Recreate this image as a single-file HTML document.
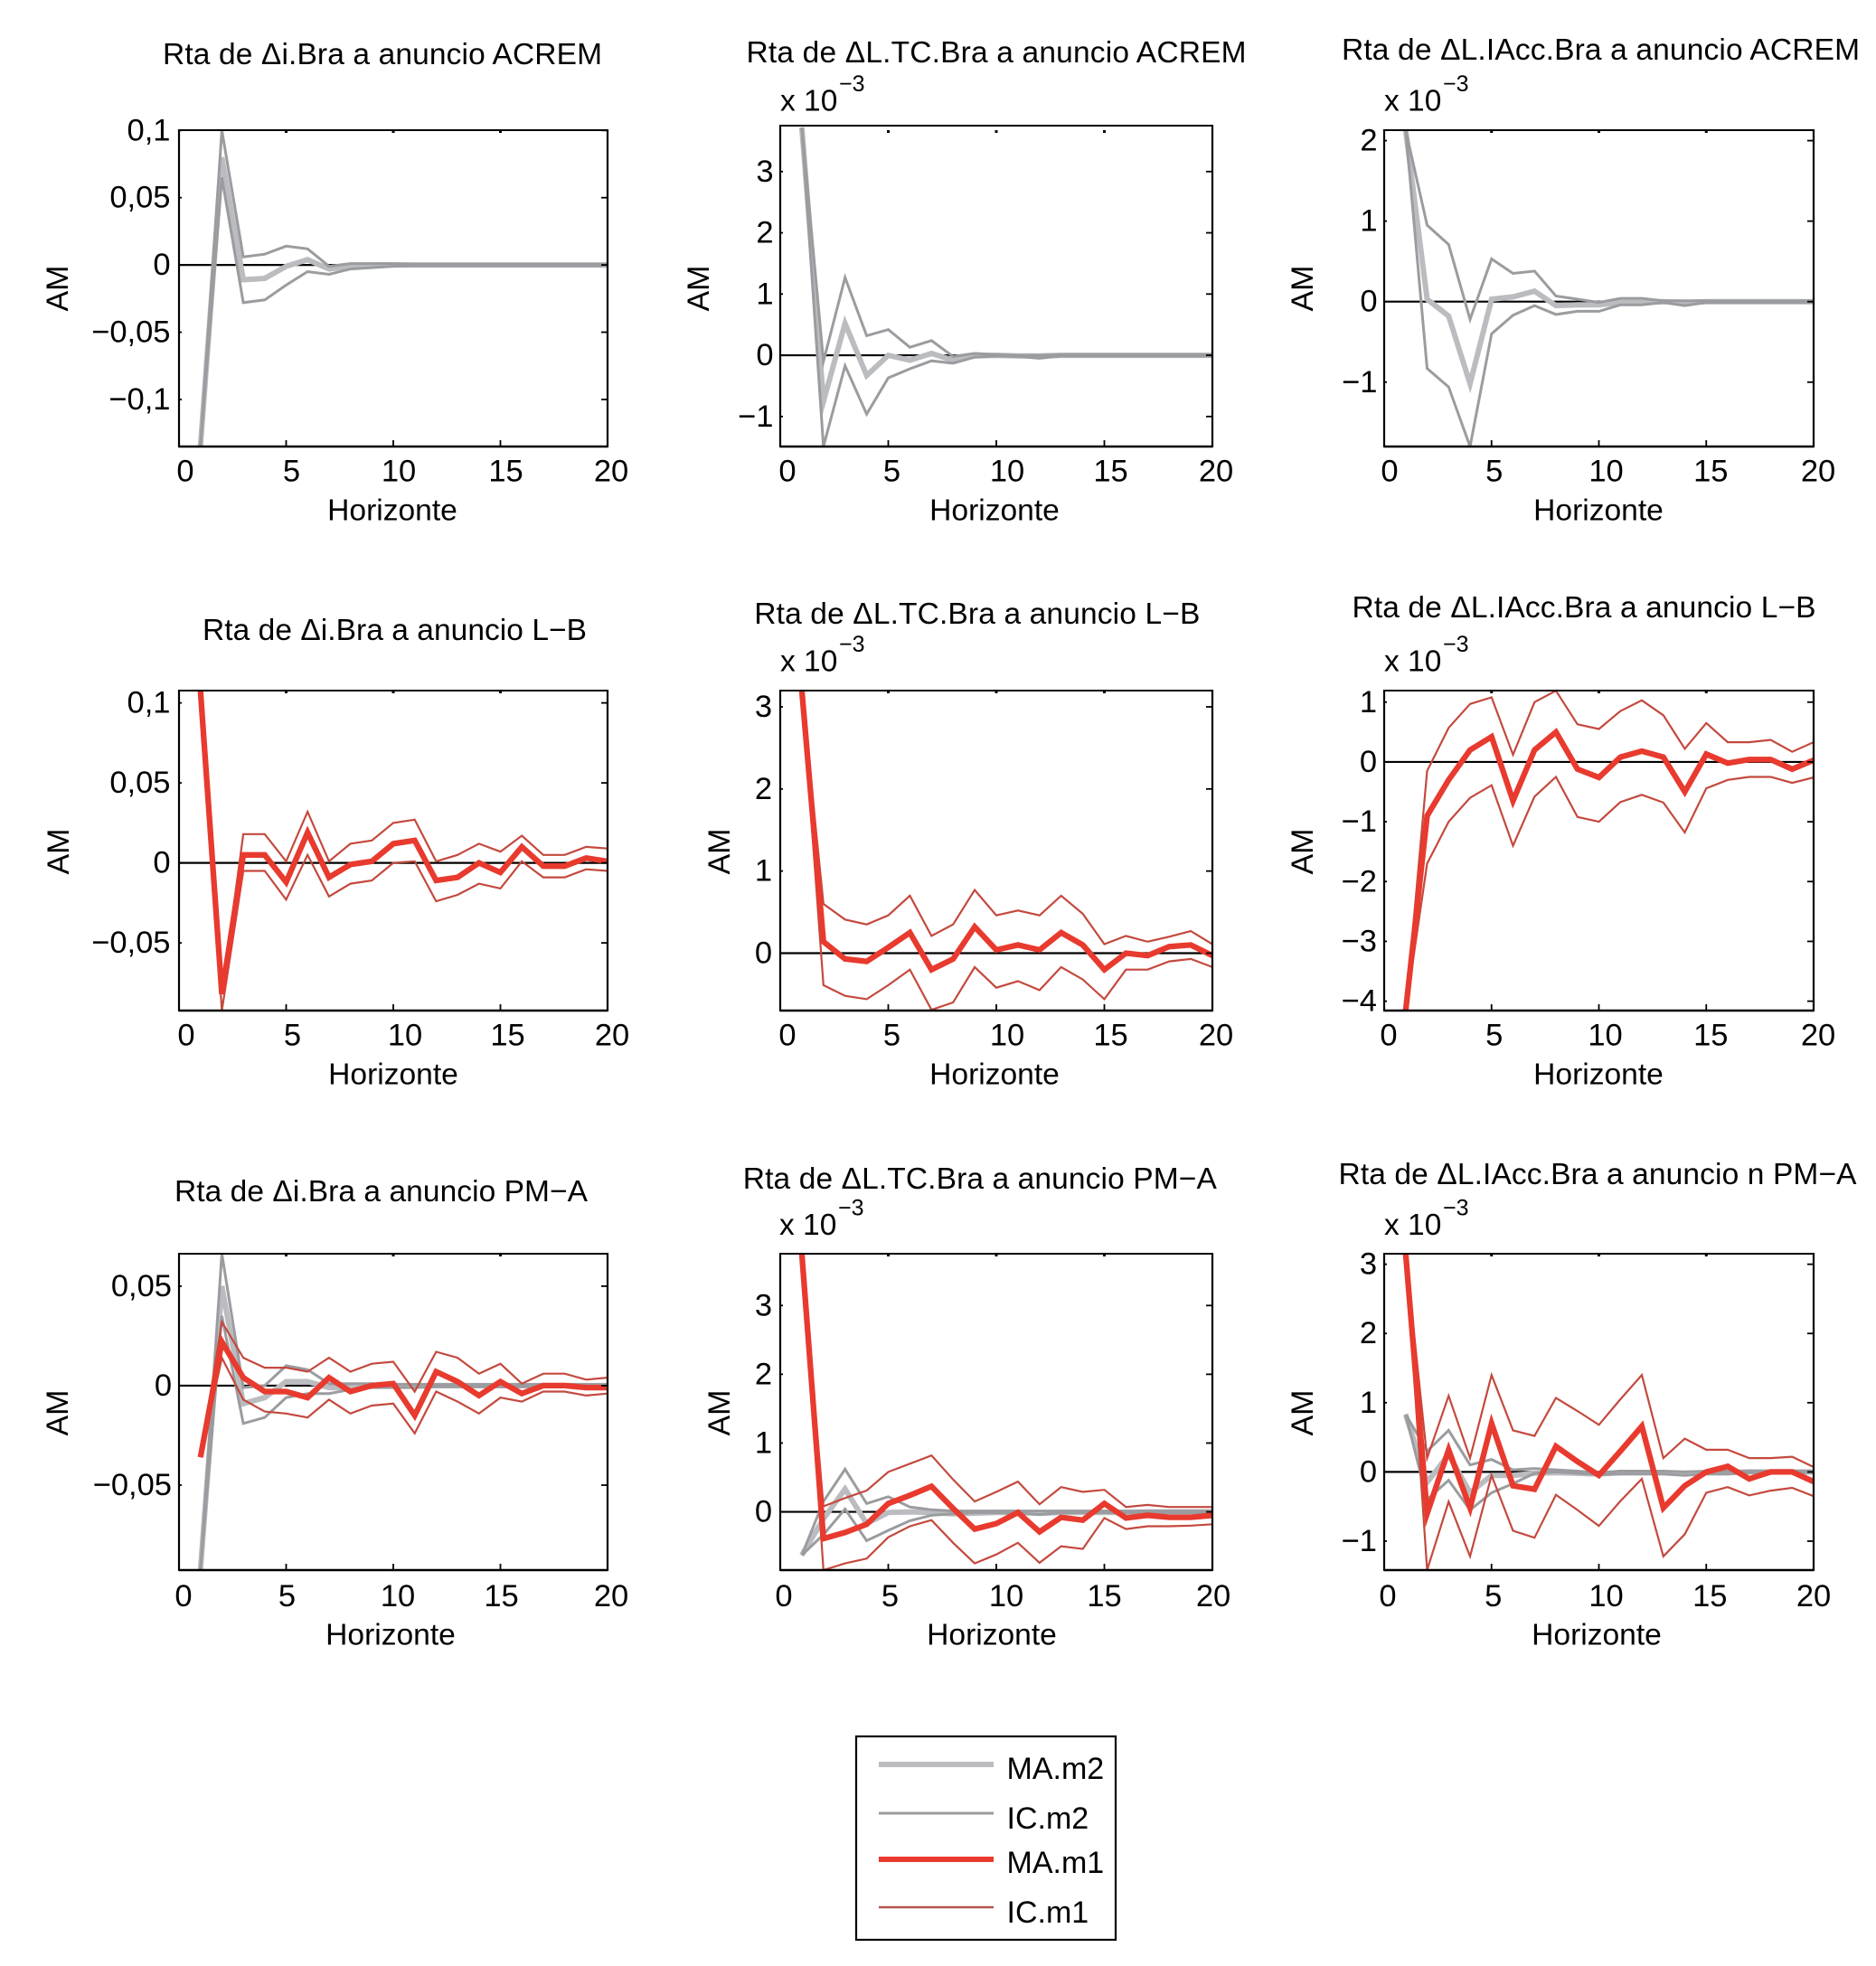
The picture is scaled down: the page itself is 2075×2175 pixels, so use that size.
<!DOCTYPE html>
<html lang="es">
<head>
<meta charset="utf-8">
<title>Respuestas a anuncios</title>
<style>
html,body{margin:0;padding:0;background:#fff;}
svg{display:block;}
text{font-family:"Liberation Sans",sans-serif;fill:#000;}
</style>
</head>
<body>
<svg id="figure" xmlns="http://www.w3.org/2000/svg" width="2075" height="2175" viewBox="0 0 2075 2175">
  <rect x="0" y="0" width="2075" height="2175" fill="#ffffff"/>
  <g id="panels"></g>
  <g id="legend">
    <rect x="947" y="1921" width="287" height="225" fill="#fff" stroke="#000" stroke-width="2.2"/>
    <line x1="972" x2="1099" y1="1952" y2="1952" stroke="#babcbf" stroke-width="6"/>
    <text x="1113.5" y="1968" font-size="34">MA.m2</text>
    <line x1="972" x2="1099" y1="2006" y2="2006" stroke="#9a9c9f" stroke-width="3"/>
    <text x="1113.5" y="2023" font-size="34">IC.m2</text>
    <line x1="972" x2="1099" y1="2057" y2="2057" stroke="#e83a2e" stroke-width="6"/>
    <text x="1113.5" y="2072" font-size="34">MA.m1</text>
    <line x1="972" x2="1099" y1="2110" y2="2110" stroke="#b5554c" stroke-width="2.5"/>
    <text x="1113.5" y="2127" font-size="34">IC.m1</text>
  </g>
</svg>
<script>
const horizons = [1,2,3,4,5,6,7,8,9,10,11,12,13,14,15,16,17,18,19,20];
const xTickValues = [0,5,10,15,20];
const xTickLabels = ["0","5","10","15","20"];

const p1Ma2 = [-0.135,0.08,-0.011,-0.01,-0.001,0.004,-0.003,-0.001,0,0,0,0,0,0,0,0,0,0,0,0];
const p1Up2 = [-0.135,0.1,0.006,0.008,0.014,0.012,-0.001,0.001,0.001,0.001,0.0006,0.0006,0.0006,0.0006,0.0006,0.0006,0.0006,0.0006,0.0006,0.0006];
const p1Lo2 = [-0.135,0.065,-0.028,-0.026,-0.015,-0.005,-0.007,-0.003,-0.002,-0.001,-0.0006,-0.0006,-0.0006,-0.0006,-0.0006,-0.0006,-0.0006,-0.0006,-0.0006,-0.0006];

const p2Ma2 = [3.72,-0.75,0.52,-0.33,0,-0.08,0.03,-0.08,-0.01,0,-0.01,-0.01,0,0,0,0,0,0,0,0];
const p2Up2 = [3.72,-0.1,1.27,0.32,0.42,0.13,0.24,-0.02,0.03,0.012,0,0,0.012,0.012,0.012,0.012,0.012,0.012,0.012,0.012];
const p2Lo2 = [3.72,-1.49,-0.17,-0.96,-0.37,-0.22,-0.09,-0.13,-0.03,-0.012,-0.02,-0.05,-0.012,-0.012,-0.012,-0.012,-0.012,-0.012,-0.012,-0.012];

const p3Ma2 = [2.13,0.03,-0.18,-1.02,0.03,0.06,0.13,-0.05,-0.04,-0.04,-0.01,-0.01,0,-0.01,0,0,0,0,0,0];
const p3Up2 = [2.13,0.95,0.71,-0.22,0.53,0.35,0.38,0.07,0.03,-0.01,0.04,0.04,0.01,0.01,0.01,0.01,0.01,0.01,0.01,0.01];
const p3Lo2 = [2.13,-0.83,-1.06,-1.8,-0.4,-0.17,-0.05,-0.16,-0.12,-0.12,-0.04,-0.04,-0.01,-0.05,-0.01,-0.01,-0.01,-0.01,-0.01,-0.01];

const p4Ma1 = [0.1077,-0.082,0.005,0.005,-0.012,0.019,-0.009,-0.001,0.001,0.012,0.014,-0.011,-0.009,0,-0.006,0.01,-0.002,-0.002,0.003,0.001];
const p4Up1 = [0.1077,-0.082,0.018,0.018,0.001,0.032,0.001,0.012,0.014,0.025,0.027,0.001,0.005,0.012,0.007,0.017,0.005,0.005,0.01,0.009];
const p4Lo1 = [0.1077,-0.0923,-0.005,-0.005,-0.023,0.005,-0.021,-0.013,-0.011,0,0.001,-0.024,-0.02,-0.013,-0.016,0.001,-0.009,-0.009,-0.004,-0.005];

const p5Ma1 = [3.198,0.14,-0.07,-0.1,0.07,0.25,-0.2,-0.07,0.32,0.04,0.1,0.04,0.25,0.1,-0.2,0,-0.03,0.08,0.1,-0.03];
const p5Up1 = [3.198,0.6,0.41,0.35,0.46,0.7,0.21,0.35,0.77,0.46,0.52,0.46,0.7,0.48,0.11,0.21,0.14,0.2,0.27,0.11];
const p5Lo1 = [3.198,-0.39,-0.52,-0.56,-0.39,-0.2,-0.69,-0.6,-0.17,-0.42,-0.34,-0.45,-0.17,-0.32,-0.56,-0.2,-0.2,-0.1,-0.07,-0.17];

const p6Ma1 = [-4.157,-0.9,-0.3,0.2,0.42,-0.65,0.2,0.5,-0.12,-0.26,0.08,0.18,0.08,-0.5,0.13,-0.02,0.04,0.04,-0.12,0.03];
const p6Up1 = [-4.157,-0.15,0.57,0.97,1.08,0.12,1,1.19,0.63,0.55,0.85,1.03,0.78,0.22,0.65,0.33,0.33,0.37,0.17,0.33];
const p6Lo1 = [-4.157,-1.7,-1,-0.6,-0.39,-1.4,-0.58,-0.25,-0.92,-1,-0.67,-0.55,-0.68,-1.18,-0.44,-0.3,-0.25,-0.25,-0.35,-0.26];

const p7Ma2 = [-0.0927,0.05,-0.009,-0.006,0.002,0.002,-0.001,-0.001,0,0,0,0,0,0,0,0,0,0,0,0];
const p7Up2 = [-0.0927,0.0663,-0.001,0,0.01,0.008,0.001,0.001,0.001,0.0006,0.0006,0.0006,0.0006,0.0006,0.0006,0.0006,0.0006,0.0006,0.0006,0.0006];
const p7Lo2 = [-0.0927,0.035,-0.019,-0.016,-0.006,-0.004,-0.004,-0.002,-0.001,-0.001,-0.001,-0.0006,-0.0006,-0.0006,-0.0006,-0.0006,-0.0006,-0.0006,-0.0006,-0.0006];
const p7Ma1 = [-0.036,0.022,0.004,-0.003,-0.003,-0.006,0.004,-0.003,0,0.001,-0.015,0.007,0.002,-0.005,0.002,-0.004,0,0,-0.001,-0.001];
const p7Up1 = [-0.036,0.032,0.014,0.009,0.009,0.007,0.014,0.007,0.011,0.012,-0.003,0.017,0.014,0.006,0.011,0.001,0.006,0.006,0.003,0.004];
const p7Lo1 = [-0.036,0.014,-0.007,-0.013,-0.014,-0.016,-0.007,-0.014,-0.01,-0.009,-0.024,-0.003,-0.008,-0.014,-0.006,-0.008,-0.003,-0.003,-0.005,-0.004];

const p8Ma2 = [-0.63,-0.1,0.33,-0.17,-0.01,0,-0.01,-0.03,-0.02,-0.01,-0.01,-0.02,-0.01,-0.01,-0.01,-0.01,0,0,0,0];
const p8Up2 = [-0.63,0.15,0.62,0.12,0.22,0.07,0.03,0.012,0.012,0.012,0.012,0.012,0.012,0.012,0.012,0.012,0.012,0.012,0.012,0.012];
const p8Lo2 = [-0.63,-0.33,0.04,-0.42,-0.27,-0.13,-0.05,-0.03,-0.012,-0.012,-0.02,-0.04,-0.012,-0.012,-0.012,-0.012,-0.012,-0.012,-0.012,-0.012];
const p8Ma1 = [3.75,-0.39,-0.3,-0.18,0.12,0.24,0.37,0.05,-0.25,-0.17,-0.01,-0.29,-0.08,-0.12,0.12,-0.09,-0.05,-0.08,-0.08,-0.05];
const p8Up1 = [3.75,0.08,0.2,0.31,0.58,0.7,0.82,0.47,0.15,0.29,0.44,0.11,0.36,0.29,0.32,0.07,0.1,0.07,0.07,0.07];
const p8Lo1 = [3.75,-0.847,-0.75,-0.68,-0.37,-0.21,-0.12,-0.45,-0.75,-0.62,-0.45,-0.74,-0.5,-0.54,-0.09,-0.25,-0.21,-0.21,-0.2,-0.18];

const p9Ma2 = [0.83,-0.15,0.25,-0.3,-0.05,-0.05,-0.02,-0.01,-0.02,-0.03,-0.01,-0.01,-0.01,-0.02,-0.01,-0.01,0,0,0,0];
const p9Up2 = [0.83,0.3,0.6,0.1,0.18,0.03,0.05,0.03,0.012,-0.01,0.012,0.012,0.012,0,0.012,0.012,0.012,0.012,0.012,0.012];
const p9Lo2 = [0.83,-0.4,-0.12,-0.55,-0.3,-0.17,-0.02,0,-0.02,-0.04,-0.03,-0.03,-0.03,-0.05,-0.03,-0.03,-0.012,-0.012,-0.012,-0.012];
const p9Ma1 = [3.15,-0.6,0.32,-0.52,0.7,-0.2,-0.25,0.37,0.15,-0.05,0.3,0.66,-0.52,-0.2,0,0.08,-0.1,0,0,-0.14];
const p9Up1 = [3.15,0.2,1.1,0.2,1.4,0.6,0.52,1.07,0.88,0.68,1.05,1.4,0.2,0.48,0.32,0.32,0.2,0.2,0.22,0.07];
const p9Lo1 = [3.15,-1.418,-0.43,-1.22,-0.05,-0.85,-0.95,-0.33,-0.55,-0.78,-0.42,-0.1,-1.22,-0.9,-0.3,-0.22,-0.34,-0.27,-0.23,-0.35];

const colors = {ma2:"#babcbf",ic2:"#9a9c9f",ma1:"#e83a2e",ic1:"#c4493e"};

const panels = [
 {id:"p1",title:"Rta de Δi.Bra a anuncio ACREM",tx:423,ty:71,tw:486,
  box:[198,144,672,494],yMin:-0.135,yMax:0.1002,dot:0,
  yTicks:[-0.1,-0.05,0,0.05,0.1],yLabels:["−0,1","−0,05","0","0,05","0,1"],yr:188.5,
  xNudge:[7,6,6,6,4],xlb:532.5,hx:434,hb:575.5,amx:75,amy:319,gray:[p1Ma2,p1Up2,p1Lo2],red:null},
 {id:"p2",title:"Rta de ΔL.TC.Bra a anuncio ACREM",tx:1102,ty:69,tw:553,exp:[863,122.5],
  box:[863,139,1341,494],yMin:-1.49,yMax:3.75,dot:5,
  yTicks:[-1,0,1,2,3],yLabels:["−1","0","1","2","3"],yr:855.5,
  xNudge:[8,4,12,7,4],xlb:532.5,hx:1100,hb:575.5,amx:784,amy:319,gray:[p2Ma2,p2Up2,p2Lo2],red:null},
 {id:"p3",title:"Rta de ΔL.IAcc.Bra a anuncio ACREM",tx:1770.5,ty:66,tw:573,exp:[1531,122.5],
  box:[1531,144,2006,494],yMin:-1.8,yMax:2.13,dot:0,
  yTicks:[-1,0,1,2],yLabels:["−1","0","1","2"],yr:1523.5,
  xNudge:[6,3,8,5,5],xlb:532.5,hx:1768,hb:575.5,amx:1452,amy:319,gray:[p3Ma2,p3Up2,p3Lo2],red:null},
 {id:"p4",title:"Rta de Δi.Bra a anuncio L−B",tx:436.5,ty:708,tw:425,
  box:[198,764,672,1118],yMin:-0.0923,yMax:0.1077,dot:0,
  yTicks:[-0.05,0,0.05,0.1],yLabels:["−0,05","0","0,05","0,1"],yr:188.5,
  xNudge:[8,7,13,8,5],xlb:1156.5,hx:435,hb:1199.5,amx:76,amy:942,gray:null,red:[p4Ma1,p4Up1,p4Lo1]},
 {id:"p5",title:"Rta de ΔL.TC.Bra a anuncio L−B",tx:1080.8,ty:690,tw:493,exp:[863,742.5],
  box:[863,764,1341,1118],yMin:-0.699,yMax:3.198,dot:0,
  yTicks:[0,1,2,3],yLabels:["0","1","2","3"],yr:854,
  xNudge:[8,4,12,7,4],xlb:1156.5,hx:1100,hb:1199.5,amx:807,amy:942,gray:null,red:[p5Ma1,p5Up1,p5Lo1]},
 {id:"p6",title:"Rta de ΔL.IAcc.Bra a anuncio L−B",tx:1752,ty:683,tw:513,exp:[1531,742.5],
  box:[1531,764,2006,1118],yMin:-4.157,yMax:1.193,dot:0,
  yTicks:[-4,-3,-2,-1,0,1],yLabels:["−4","−3","−2","−1","0","1"],yr:1523,
  xNudge:[5,3,7,5,5],xlb:1156.5,hx:1768,hb:1199.5,amx:1452,amy:942,gray:null,red:[p6Ma1,p6Up1,p6Lo1]},
 {id:"p7",title:"Rta de Δi.Bra a anuncio PM−A",tx:421.5,ty:1329,tw:457,
  box:[198,1387,672,1737],yMin:-0.0927,yMax:0.0663,dot:0,
  yTicks:[-0.05,0,0.05],yLabels:["−0,05","0","0,05"],yr:190,
  xNudge:[5,1,5,1,4],xlb:1777,hx:432,hb:1819.5,amx:75,amy:1563,gray:[p7Ma2,p7Up2,p7Lo2],red:[p7Ma1,p7Up1,p7Lo1]},
 {id:"p8",title:"Rta de ΔL.TC.Bra a anuncio PM−A",tx:1083.8,ty:1315,tw:524,exp:[862,1366],
  box:[863,1387,1341,1737],yMin:-0.847,yMax:3.753,dot:0,
  yTicks:[0,1,2,3],yLabels:["0","1","2","3"],yr:854,
  xNudge:[4,2,11,0,1],xlb:1777,hx:1097,hb:1819.5,amx:807,amy:1563,gray:[p8Ma2,p8Up2,p8Lo2],red:[p8Ma1,p8Up1,p8Lo1]},
 {id:"p9",title:"Rta de ΔL.IAcc.Bra a anuncio n PM−A",tx:1767,ty:1310,tw:573,exp:[1531,1366],
  box:[1531,1387,2006,1737],yMin:-1.418,yMax:3.152,dot:0,
  yTicks:[-1,0,1,2,3],yLabels:["−1","0","1","2","3"],yr:1523,
  xNudge:[4,2,8,4,0],xlb:1777,hx:1766,hb:1819.5,amx:1452,amy:1563,gray:[p9Ma2,p9Up2,p9Lo2],red:[p9Ma1,p9Up1,p9Lo1]}
];

const NS = "http://www.w3.org/2000/svg";
function make(parent, tag, attrs, txt){
  const el = document.createElementNS(NS, tag);
  for (const k in attrs) el.setAttribute(k, attrs[k]);
  if (txt !== undefined) el.textContent = txt;
  parent.appendChild(el);
  return el;
}

const root = document.getElementById("panels");
panels.forEach(function(p){
  const [L,T,R,B] = p.box;
  const xScale = function(v){ return L + (R-L)*v/20; };
  const yScale = function(v){ return B - (B-T)*(v-p.yMin)/(p.yMax-p.yMin); };

  const g = make(root,"g",{});
  
  

  const title = make(g,"text",{x:p.tx,y:p.ty,"font-size":33.5,"text-anchor":"middle",textLength:p.tw,lengthAdjust:"spacing"},p.title);
  
  

  if (p.exp){
    const e1 = make(g,"text",{x:p.exp[0],y:p.exp[1],"font-size":33.5},"x 10");
    
    
    const e2 = make(g,"text",{x:p.exp[0]+65,y:p.exp[1]-21.5,"font-size":25},"−3");
    
    
  }

  const clipId = "clip-" + p.id;
  const cp = make(g,"clipPath",{id:clipId});
  make(cp,"rect",{x:L,y:T-2,width:R-L,height:B-T+3});

  const zero = make(g,"line",{x1:L,x2:R,y1:yScale(0),y2:yScale(0),stroke:"#000","stroke-width":2.2});
  
  

  const plot = make(g,"g",{"clip-path":"url(#"+clipId+")",fill:"none","stroke-linejoin":"miter","stroke-miterlimit":6});
  
  

  function drawLine(values, color, width, name){
    const pts = values.map(function(v,i){ return xScale(horizons[i]).toFixed(1)+","+yScale(v).toFixed(1); }).join(" ");
    const line = make(plot,"polyline",{points:pts,stroke:color,"stroke-width":width});
    
    
  }
  if (p.gray){
    drawLine(p.gray[0], colors.ma2, 6, 'series-ma-m2');
    drawLine(p.gray[1], colors.ic2, 3, 'series-ic-m2-upper');
    drawLine(p.gray[2], colors.ic2, 3, 'series-ic-m2-lower');
  }
  if (p.red){
    drawLine(p.red[1], colors.ic1, 2.2, 'series-ic-m1-upper');
    drawLine(p.red[2], colors.ic1, 2.2, 'series-ic-m1-lower');
    drawLine(p.red[0], colors.ma1, 6.3, 'series-ma-m1');
  }

  const frame = make(g,"g",{stroke:"#000",fill:"none"});
  
  
  make(frame,"line",{x1:L,x2:R,y1:T,y2:T,"stroke-width":2});
  make(frame,"line",{x1:L,x2:R,y1:B,y2:B,"stroke-width":2.4});
  make(frame,"line",{x1:L,x2:L,y1:T-1,y2:B+1,"stroke-width":2.2});
  make(frame,"line",{x1:R,x2:R,y1:T-1,y2:B+1,"stroke-width":2.2});

  xTickValues.forEach(function(v,i){
    const x = xScale(v);
    if (v>0 && v<20){
      make(frame,"line",{x1:x,x2:x,y1:B,y2:B-7,"stroke-width":1.8});
      make(frame,"line",{x1:x,x2:x,y1:T+p.dot,y2:T+p.dot+3,"stroke-width":3});
    }
    const lab = make(g,"text",{x:x+p.xNudge[i],y:p.xlb,"font-size":34.5,"text-anchor":"middle"},xTickLabels[i]);
    
    
  });

  p.yTicks.forEach(function(v,i){
    const y = yScale(v);
    make(frame,"line",{x1:L,x2:L+3,y1:y,y2:y,"stroke-width":1.8});
    make(frame,"line",{x1:R,x2:R-7,y1:y,y2:y,"stroke-width":1.8});
    const lab = make(g,"text",{x:p.yr,y:y+11,"font-size":34.5,"text-anchor":"end"},p.yLabels[i]);
    
    
  });

  const xt = make(g,"text",{x:p.hx,y:p.hb,"font-size":33.6,"text-anchor":"middle"},"Horizonte");
  
  

  const yt = make(g,"text",{x:0,y:0,"font-size":34,"text-anchor":"middle",transform:"translate("+p.amx+" "+p.amy+") rotate(-90)"},"AM");
  
  
});
</script>
</body>
</html>
